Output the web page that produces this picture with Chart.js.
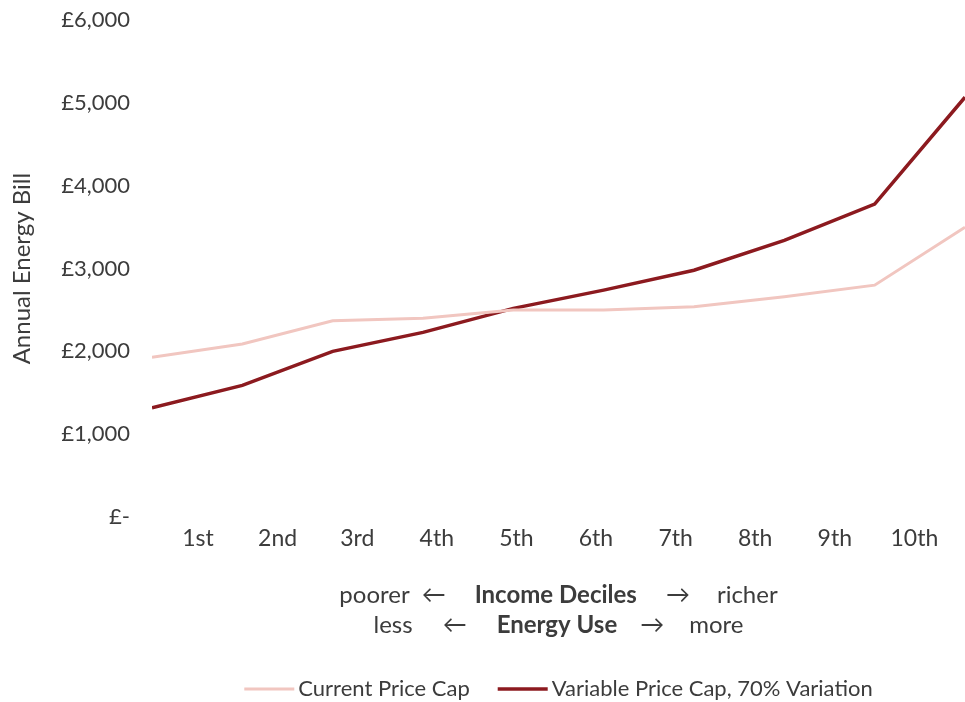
<!DOCTYPE html>
<html>
<head>
<meta charset="utf-8">
<script src="https://cdn.jsdelivr.net/npm/chart.js@4/dist/chart.umd.min.js"></script>
<style>
  html, body { margin: 0; padding: 0; background: #ffffff; overflow: hidden; }
  #wrap { width: 965px; height: 702px; position: relative; }
</style>
</head>
<body>
<div id="wrap"><canvas id="chart"></canvas></div>
<script>
// Income deciles (poorest to richest)
const deciles = ['1st', '2nd', '3rd', '4th', '5th', '6th', '7th', '8th', '9th', '10th'];

// Annual energy bill (£) per decile
const currentPriceCap = [1930, 2090, 2370, 2400, 2500, 2500, 2540, 2660, 2800, 3500];
const variablePriceCap = [1320, 1590, 2000, 2230, 2520, 2740, 2980, 3340, 3780, 5070];

// Y axis tick values
const yTickValues = [0, 1000, 2000, 3000, 4000, 5000, 6000];

const seriesNames = ['Current Price Cap', 'Variable Price Cap, 70% Variation'];
const seriesColors = ['#f1c6c0', '#8c1a1f'];
const seriesWidths = [3, 3.5];

const TEXT = '#3c3c3c';
const FONT = 'Lato';

function pounds(v) {
  return v === 0 ? '£-' : '£' + v.toLocaleString('en-GB');
}

// Two-line axis caption with mixed regular / bold runs and fixed gaps
const captionLines = [
  [['poorer', false], 12, ['←', false], 29, ['Income Deciles', true], 29, ['→', false], 27, ['richer', false]],
  [['less', false], 30, ['←', false], 30, ['Energy Use', true], 23, ['→', false], 25, ['more', false]]
];

const captionPlugin = {
  id: 'caption',
  afterDraw(chart) {
    const ctx = chart.ctx;
    const area = chart.chartArea;
    const cx = (area.left + area.right) / 2;
    const offsets = [78, 108];
    const size = 24;
    ctx.save();
    ctx.fillStyle = TEXT;
    ctx.textBaseline = 'middle';
    ctx.textAlign = 'left';
    captionLines.forEach((parts, li) => {
      let total = 0;
      parts.forEach(p => {
        if (typeof p === 'number') { total += p; return; }
        ctx.font = (p[1] ? 'bold ' : '') + size + 'px ' + FONT;
        total += ctx.measureText(p[0]).width;
      });
      let x = cx - total / 2;
      const y = area.bottom + offsets[li];
      parts.forEach(p => {
        if (typeof p === 'number') { x += p; return; }
        ctx.font = (p[1] ? 'bold ' : '') + size + 'px ' + FONT;
        ctx.fillText(p[0], x, y);
        x += ctx.measureText(p[0]).width;
      });
    });
    ctx.restore();
  }
};

// Legend row under the caption: line sample followed by the series name
const lineLegendPlugin = {
  id: 'lineLegend',
  afterDraw(chart) {
    const ctx = chart.ctx;
    const area = chart.chartArea;
    const cx = (area.left + area.right) / 2;
    const y = area.bottom + 172;
    const sample = 50, gapText = 4, gapItem = 28, size = 22;
    ctx.save();
    ctx.font = size + 'px ' + FONT;
    const items = chart.data.datasets.map(ds => ({
      text: ds.label, color: ds.borderColor, width: ds.borderWidth,
      tw: ctx.measureText(ds.label).width
    }));
    let total = 0;
    items.forEach((it, i) => { total += sample + gapText + it.tw + (i ? gapItem : 0); });
    let x = cx - total / 2;
    ctx.textBaseline = 'middle';
    ctx.textAlign = 'left';
    items.forEach(it => {
      ctx.strokeStyle = it.color;
      ctx.lineWidth = it.width;
      ctx.beginPath();
      ctx.moveTo(x, y);
      ctx.lineTo(x + sample, y);
      ctx.stroke();
      x += sample + gapText;
      ctx.fillStyle = TEXT;
      ctx.fillText(it.text, x, y);
      x += it.tw + gapItem;
    });
    ctx.restore();
  }
};

const ctx = document.getElementById('chart');
new Chart(ctx, {
  type: 'line',
  data: {
    datasets: [
      {
        label: seriesNames[0],
        data: currentPriceCap.map((v, i) => ({ x: i, y: v })),
        borderColor: seriesColors[0],
        backgroundColor: seriesColors[0],
        borderWidth: seriesWidths[0],
        pointRadius: 0,
        tension: 0,
        xAxisID: 'x'
      },
      {
        label: seriesNames[1],
        data: variablePriceCap.map((v, i) => ({ x: i, y: v })),
        borderColor: seriesColors[1],
        backgroundColor: seriesColors[1],
        borderWidth: seriesWidths[1],
        pointRadius: 0,
        tension: 0,
        xAxisID: 'x'
      }
    ]
  },
  options: {
    responsive: true,
    maintainAspectRatio: false,
    animation: false,
    layout: { padding: { top: 0, right: 0, left: 0, bottom: 0 } },
    plugins: {
      tooltip: { enabled: false },
      legend: { display: false }
    },
    scales: {
      x: {
        type: 'linear',
        min: 0,
        max: deciles.length - 1,
        display: false
      },
      xl: {
        type: 'linear',
        position: 'bottom',
        min: -0.578,
        max: 9.636,
        grid: { display: false, drawTicks: false },
        border: { display: false },
        afterBuildTicks(scale) {
          scale.ticks = deciles.map((_, i) => ({ value: i }));
        },
        afterFit(scale) { scale.height = 185; },
        ticks: {
          autoSkip: false,
          maxRotation: 0,
          padding: 8,
          color: TEXT,
          font: { family: FONT, size: 23 },
          callback: (v) => deciles[v]
        }
      },
      y: {
        type: 'linear',
        min: 0,
        max: 6000,
        grid: { display: false, drawTicks: true, tickLength: 15 },
        border: { display: false },
        afterBuildTicks(scale) {
          scale.ticks = yTickValues.map(v => ({ value: v }));
        },
        afterFit(scale) { scale.width = 152; },
        title: {
          display: true,
          text: 'Annual Energy Bill',
          color: TEXT,
          font: { family: FONT, size: 24 },
          padding: { top: 8, bottom: 0 }
        },
        ticks: {
          padding: 7,
          color: TEXT,
          font: { family: FONT, size: 22 },
          callback: (v) => pounds(v)
        }
      }
    }
  },
  plugins: [captionPlugin, lineLegendPlugin]
});
</script>
</body>
</html>
